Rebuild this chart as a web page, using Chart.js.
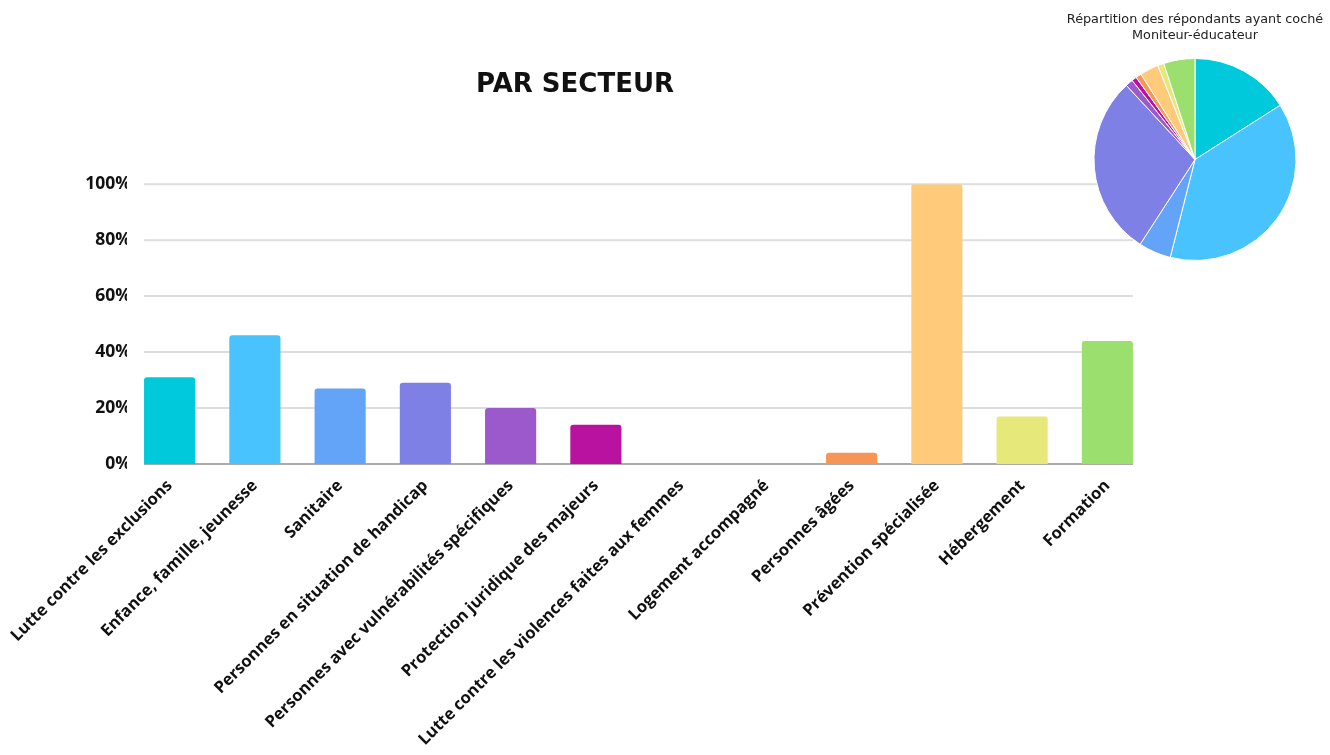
<!DOCTYPE html>
<html lang="fr">
<head>
<meta charset="utf-8">
<title>Par secteur</title>
<script src="https://cdn.jsdelivr.net/npm/chart.js@4/dist/chart.umd.min.js"></script>
<style>
    html, body { margin: 0; padding: 0; background: #fff; }
    #wrap { position: relative; width: 1330px; height: 755px; }
    #barBox { position: absolute; left: 0; top: 0; width: 1160px; height: 755px; }
    #pieBox { position: absolute; left: 1060px; top: 0; width: 270px; height: 265px; }
</style>
</head>
<body>
<div id="wrap">
    <div id="barBox"><canvas id="barChart"></canvas></div>
    <div id="pieBox"><canvas id="pieChart"></canvas></div>
</div>
<script>
// Data
const secteurs = [
    'Lutte contre les exclusions',
    'Enfance, famille, jeunesse',
    'Sanitaire',
    'Personnes en situation de handicap',
    'Personnes avec vulnérabilités spécifiques',
    'Protection juridique des majeurs',
    'Lutte contre les violences faites aux femmes',
    'Logement accompagné',
    'Personnes âgées',
    'Prévention spécialisée',
    'Hébergement',
    'Formation'
];
const pourcentages = [31, 46, 27, 29, 20, 14, 0, 0, 4, 100, 17, 44];
const couleurs = [
    '#00C9DB', '#48C3FE', '#64A4F8', '#7F80E6', '#9B59CC', '#B912A0',
    '#E86A8A', '#F2A0B8', '#F79554', '#FFCA79', '#E6E87A', '#9BDF6E'
];
const yTicks = [0, 20, 40, 60, 80, 100];

// pie: répartition des répondants "Moniteur-éducateur"
const pieSecteurs = [
    'Lutte contre les exclusions', 'Enfance, famille, jeunesse', 'Sanitaire',
    'Personnes en situation de handicap', 'Personnes avec vulnérabilités spécifiques',
    'Protection juridique des majeurs', 'Personnes âgées', 'Prévention spécialisée',
    'Hébergement', 'Formation'
];
const pieValeurs = [16, 38, 5.2, 29, 1.2, 0.8, 0.9, 3, 1, 5];
const pieCouleurs = [
    '#00C9DB', '#48C3FE', '#64A4F8', '#7F80E6', '#9B59CC',
    '#B912A0', '#F79554', '#FFCA79', '#E6E87A', '#9BDF6E'
];

// grid lines only between first and last bar edges
const gridPlugin = {
    id: 'gridBars',
    beforeDatasetsDraw(chart) {
        const meta = chart.getDatasetMeta(0);
        const first = meta.data[0];
        const last = meta.data[meta.data.length - 1];
        const x0 = first.x - first.width / 2;
        const x1 = last.x + last.width / 2;
        const y = chart.scales.y;
        const c = chart.ctx;
        c.save();
        c.lineWidth = 2;
        yTicks.forEach(t => {
            const py = y.getPixelForValue(t);
            c.strokeStyle = t === 0 ? '#ABABAB' : '#DDDDDD';
            c.beginPath();
            c.moveTo(x0, py);
            c.lineTo(x1, py);
            c.stroke();
        });
        c.restore();
    }
};

new Chart(document.getElementById('barChart'), {
    type: 'bar',
    data: {
        labels: secteurs,
        datasets: [{
            data: pourcentages,
            backgroundColor: couleurs,
            borderRadius: 3,
            borderSkipped: 'bottom',
            categoryPercentage: 1,
            barPercentage: 0.6
        }]
    },
    plugins: [gridPlugin],
    options: {
        responsive: true,
        maintainAspectRatio: false,
        animation: false,
        layout: { padding: { left: 0, right: 10, top: 0, bottom: 0 } },
        plugins: {
            legend: { display: false },
            tooltip: { enabled: false },
            title: {
                display: true,
                text: 'PAR SECTEUR',
                color: '#111',
                font: { family: 'DejaVu Sans', size: 26, weight: 'bold', lineHeight: 1.2 },
                padding: { top: 70, bottom: 83 }
            }
        },
        scales: {
            x: {
                grid: { display: false },
                border: { display: false },
                afterFit: s => { s.height = 291; },
                ticks: {
                    color: '#111',
                    autoSkip: false,
                    maxRotation: 45,
                    minRotation: 45,
                    padding: 4,
                    font: { family: 'Open Sans', size: 16.5, weight: 'bold' }
                }
            },
            y: {
                min: 0,
                max: 100,
                afterFit: s => { s.width = 127; },
                afterBuildTicks: s => { s.ticks = yTicks.map(v => ({ value: v })); },
                grid: { display: false, drawTicks: false },
                border: { display: false },
                ticks: {
                    color: '#111',
                    padding: -4,
                    callback: v => v + '%',
                    font: { family: 'Open Sans', size: 17.5, weight: 'bold' }
                }
            }
        }
    }
});

new Chart(document.getElementById('pieChart'), {
    type: 'pie',
    data: {
        labels: pieSecteurs,
        datasets: [{
            data: pieValeurs,
            backgroundColor: pieCouleurs,
            borderColor: '#fff',
            borderWidth: 1
        }]
    },
    options: {
        responsive: true,
        maintainAspectRatio: false,
        animation: false,
        layout: { padding: { bottom: 4 } },
        plugins: {
            legend: { display: false },
            tooltip: { enabled: false },
            title: {
                display: true,
                text: ['Répartition des répondants ayant coché', 'Moniteur-éducateur'],
                color: '#222',
                font: { family: 'DejaVu Sans', size: 12.8, weight: 'normal', lineHeight: 1.25 },
                padding: { top: 12, bottom: 14 }
            }
        }
    }
});
</script>
</body>
</html>
